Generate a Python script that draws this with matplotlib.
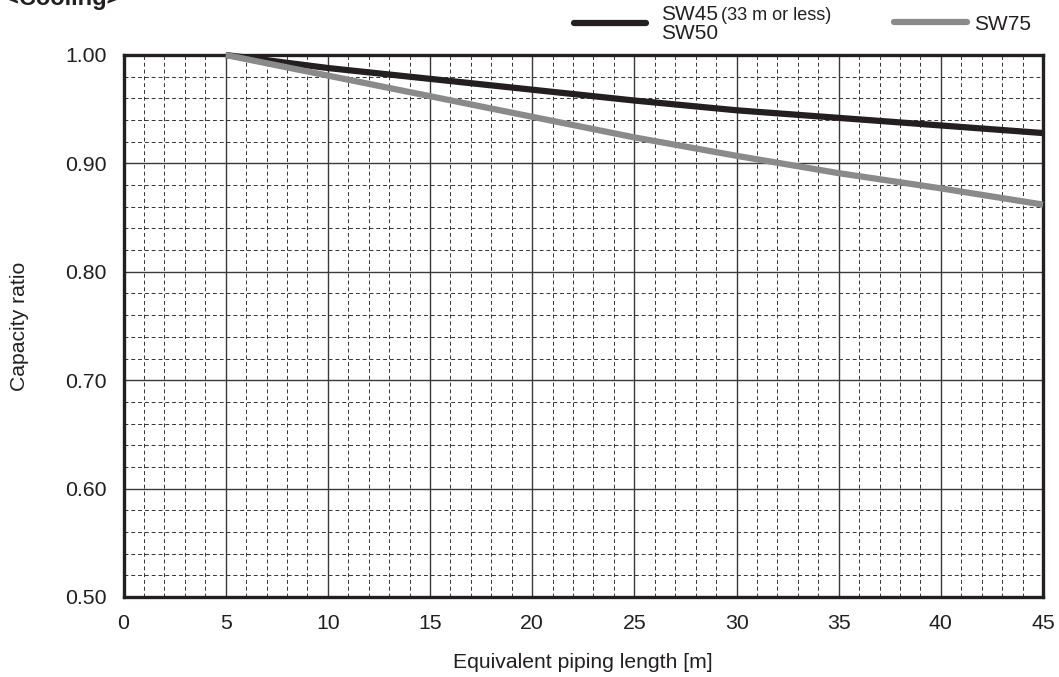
import matplotlib
matplotlib.use("Agg")
import matplotlib.pyplot as plt
from matplotlib.lines import Line2D
from matplotlib.ticker import MultipleLocator

plt.rcParams['font.family'] = ['Liberation Sans', 'DejaVu Sans']

# piping length [m] and capacity ratio
length = [5, 10, 15, 20, 25, 30, 35, 40, 45]
sw45_50 = [1.000, 0.988, 0.978, 0.968, 0.958, 0.949, 0.942, 0.935, 0.928]
sw75 = [1.000, 0.981, 0.962, 0.943, 0.924, 0.907, 0.891, 0.877, 0.862]

x_ticks = [0, 5, 10, 15, 20, 25, 30, 35, 40, 45]
y_ticks = [0.50, 0.60, 0.70, 0.80, 0.90, 1.00]

W, H = 1059, 677
fig = plt.figure(figsize=(W / 100, H / 100), dpi=100)
ax = fig.add_axes([123.5 / W, 1 - 597 / H, (1043 - 123.5) / W, (597 - 55) / H])

dark = '#231f20'
grey = '#8a8a8c'

ax.set_xlim(0, 45)
ax.set_ylim(0.5, 1.0)
ax.set_xticks(x_ticks)
ax.set_yticks(y_ticks)
ax.set_yticklabels([f"{v:.2f}" for v in y_ticks])
ax.xaxis.set_minor_locator(MultipleLocator(1))
ax.yaxis.set_minor_locator(MultipleLocator(0.02))

ax.grid(which='major', color='#3a3a3a', lw=1.0, ls='-')
ax.grid(which='minor', color='#333333', lw=0.7, ls=(0, (4, 3)))
ax.set_axisbelow(True)

ax.tick_params(which='both', length=0, labelsize=15.3, colors=dark)
ax.tick_params(axis='x', pad=12)
ax.tick_params(axis='y', pad=12)

for s in ax.spines.values():
    s.set_linewidth(2.4)
    s.set_color(dark)

ax.plot(length, sw45_50, color=dark, lw=4.5, solid_capstyle='butt', zorder=3, clip_on=False)
ax.plot(length, sw75, color=grey, lw=4.5, solid_capstyle='butt', zorder=3, clip_on=False)

ax.set_xlabel('Equivalent piping length [m]', fontsize=15.2, color=dark, labelpad=15)
ax.set_ylabel('Capacity ratio', fontsize=15.2, color=dark, labelpad=26)

# title, partly cut off at the top edge
fig.text(5 / W, 1 - 5 / H, '<Cooling>', fontsize=17, fontweight='bold', color=dark,
         ha='left', va='baseline')

# legend drawn in figure pixels
def fx(px):
    return px / W

def fy(py):
    return 1 - py / H

fig.add_artist(Line2D([fx(574), fx(646)], [fy(22.5), fy(22.5)], color=dark, lw=4.5,
                      solid_capstyle='round'))
fig.text(fx(661), fy(20), 'SW45', fontsize=15, color=dark, ha='left', va='baseline')
fig.text(fx(721), fy(20), '(33 m or less)', fontsize=13, color=dark, ha='left', va='baseline')
fig.text(fx(661), fy(39), 'SW50', fontsize=15, color=dark, ha='left', va='baseline')

fig.add_artist(Line2D([fx(894), fx(967)], [fy(22), fy(22)], color=grey, lw=4.5,
                      solid_capstyle='round'))
fig.text(fx(974), fy(30), 'SW75', fontsize=15, color=dark, ha='left', va='baseline')

fig.savefig('out.png', dpi=100)
